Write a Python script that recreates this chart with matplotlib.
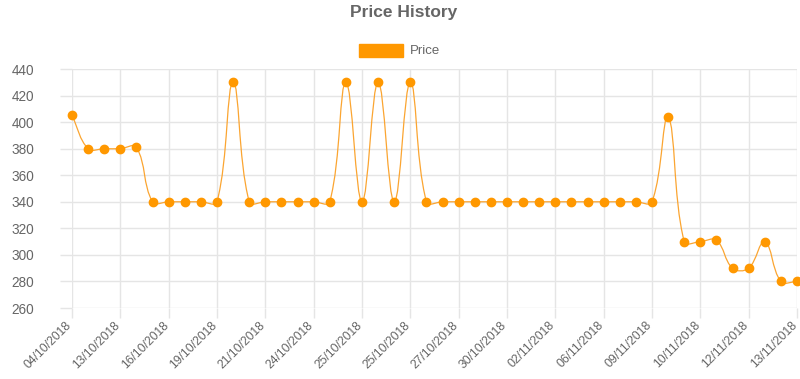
import matplotlib
matplotlib.use("Agg")
import matplotlib.pyplot as plt
import matplotlib.transforms as mtransforms
from matplotlib.path import Path
from matplotlib.patches import PathPatch, Rectangle
import numpy as np

plt.rcParams['font.family'] = ['Liberation Sans', 'DejaVu Sans']

tick_labels = ["04/10/2018", "13/10/2018", "16/10/2018", "19/10/2018", "21/10/2018",
               "24/10/2018", "25/10/2018", "25/10/2018", "27/10/2018", "30/10/2018",
               "02/11/2018", "06/11/2018", "09/11/2018", "10/11/2018", "12/11/2018",
               "13/11/2018"]
prices = [405, 380, 380, 380, 381, 340, 340, 340, 340, 340,
          430, 340, 340, 340, 340, 340, 340, 430, 340, 430,
          340, 430, 340, 340, 340, 340, 340, 340, 340, 340,
          340, 340, 340, 340, 340, 340, 340, 404, 310, 310,
          311, 290, 290, 310, 280, 280]
y_ticks = [260, 280, 300, 320, 340, 360, 380, 400, 420, 440]

W, H = 800, 379
fig = plt.figure(figsize=(W / 100, H / 100), dpi=100)
L, R, T, B = 72, 797, 69, 308
ax = fig.add_axes([L / W, 1 - B / H, (R - L) / W, (B - T) / H])
n = len(prices)
ax.set_xlim(0, n - 1)
ax.set_ylim(260, 440)

grid_c = '#e5e5e5'
text_c = '#666666'
orange = '#FF9800'

for s in ax.spines.values():
    s.set_visible(False)
ax.set_yticks(y_ticks)
ax.set_yticklabels([str(v) for v in y_ticks], fontsize=9.8, color=text_c)
xt = list(range(0, n, 3))
ax.set_xticks(xt)
ax.set_xticklabels(tick_labels, fontsize=8.8, color=text_c, rotation=45,
                   ha='right', va='center', rotation_mode='anchor')
ax.tick_params(axis='y', length=9, color=grid_c, width=1, pad=18)
ax.tick_params(axis='x', length=7, color=grid_c, width=1, pad=4)
off = mtransforms.ScaledTranslation(-2 / 100, 0, fig.dpi_scale_trans)
for lab in ax.get_xticklabels():
    lab.set_transform(lab.get_transform() + off)
ax.grid(True, color=grid_c, lw=1)
ax.set_axisbelow(True)

# Chart.js style bezier (tension 0.4), computed in pixel space
sx = (R - L) / (n - 1)
sy = (B - T) / 180.0
px = np.arange(n) * sx
py = np.array(prices, dtype=float) * sy
t = 0.4
cps = []
for i in range(n):
    pp = (px[max(i - 1, 0)], py[max(i - 1, 0)])
    cp = (px[i], py[i])
    nx = (px[min(i + 1, n - 1)], py[min(i + 1, n - 1)])
    d01 = np.hypot(cp[0] - pp[0], cp[1] - pp[1])
    d12 = np.hypot(nx[0] - cp[0], nx[1] - cp[1])
    tot = d01 + d12
    s01 = d01 / tot if tot else 0
    s12 = d12 / tot if tot else 0
    fa, fb = t * s01, t * s12
    c1 = (cp[0] - fa * (nx[0] - pp[0]), cp[1] - fa * (nx[1] - pp[1]))
    c2 = (cp[0] + fb * (nx[0] - pp[0]), cp[1] + fb * (nx[1] - pp[1]))
    cps.append((c1, c2))

verts = [(0, prices[0])]
codes = [Path.MOVETO]
for i in range(n - 1):
    c2 = cps[i][1]
    c1 = cps[i + 1][0]
    verts += [(c2[0] / sx, c2[1] / sy), (c1[0] / sx, c1[1] / sy), (i + 1, prices[i + 1])]
    codes += [Path.CURVE4] * 3
ax.add_patch(PathPatch(Path(verts, codes), fill=False, edgecolor='#FBA531', lw=0.9, zorder=3))
ax.plot(range(n), prices, 'o', color=orange, ms=6, mec=orange, zorder=4, clip_on=False)

fig.text(404 / W, 1 - 13 / H, "Price History", ha='center', va='center',
         fontsize=12.5, fontweight='bold', color=text_c)
fig.patches.append(Rectangle((359 / W, 1 - 57 / H), 44 / W, 13 / H,
                             transform=fig.transFigure, facecolor=orange,
                             edgecolor=orange, figure=fig))
fig.text(410 / W, 1 - 51 / H, "Price", ha='left', va='center', fontsize=9.5, color=text_c)

fig.savefig("out.png", dpi=100)
